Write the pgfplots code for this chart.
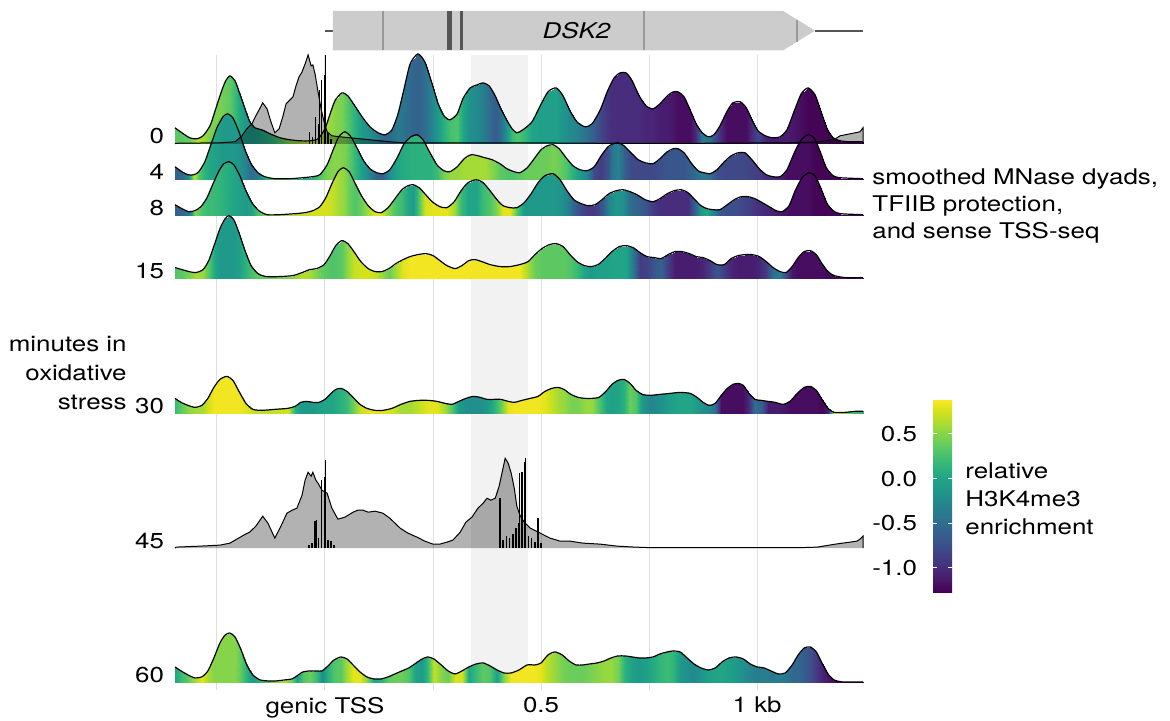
\documentclass[border=0pt]{standalone}
\usepackage{pgfplots}
\pgfplotsset{compat=1.18}
\usepackage{pgfplotstable}
\usepackage{fontspec}
\setmainfont{TeX Gyre Heros}[FakeStretch=1.2]
\definecolor{genegray}{HTML}{CCCCCC}
\definecolor{midgray}{HTML}{999999}
\definecolor{darkgene}{HTML}{555555}

% ---- smoothed MNase dyads (h, arbitrary units) coloured by relative H3K4me3 (c) ----
% 0 min
\pgfplotstableread{
x h c
-0.347 16 0.35
-0.331 11 0.35
-0.313 6 0.40
-0.296 5 0.65
-0.282 8 0.60
-0.266 18 0.45
-0.255 32 0.45
-0.243 48 0.45
-0.231 62 0.40
-0.220 68 0.35
-0.208 63 0.20
-0.197 50 0.00
-0.185 35 -0.10
-0.174 22 -0.10
-0.162 16 -0.10
-0.146 14 0.00
-0.127 10 0.10
-0.104 6 0.30
-0.081 4 0.50
-0.058 3 0.60
-0.035 3 0.70
-0.016 5 0.70
0.000 15 0.60
0.012 30 0.55
0.023 43 0.50
0.039 51 0.45
0.053 48 0.30
0.069 38 0.10
0.086 27 -0.10
0.104 17 -0.20
0.123 11 -0.40
0.139 9 -0.55
0.155 14 -0.50
0.169 30 -0.40
0.183 55 -0.45
0.197 80 -0.55
0.215 90 -0.60
0.231 82 -0.50
0.248 60 -0.30
0.262 40 -0.10
0.275 28 0.10
0.289 24 0.25
0.306 30 0.30
0.319 45 0.00
0.336 56 -0.20
0.352 59 -0.25
0.366 61 -0.35
0.380 58 -0.50
0.394 48 -0.65
0.405 37 -0.55
0.419 25 -0.20
0.433 15 0.20
0.444 11 0.30
0.458 14 0.20
0.479 22 0.00
0.498 38 -0.05
0.516 52 -0.05
0.535 56 -0.05
0.551 48 -0.15
0.567 33 -0.25
0.583 22 -0.30
0.602 17 -0.45
0.618 20 -0.60
0.637 34 -0.80
0.653 52 -0.95
0.669 66 -1.00
0.683 71 -1.00
0.697 71 -1.00
0.711 63 -1.00
0.727 48 -1.00
0.743 38 -1.05
0.759 35 -1.05
0.775 40 -1.10
0.792 48 -1.10
0.806 52 -1.15
0.817 52 -1.20
0.831 47 -1.20
0.845 34 -1.20
0.859 20 -1.00
0.873 11 -0.40
0.887 7 -0.40
0.900 9 -0.70
0.914 18 -1.00
0.931 33 -1.20
0.944 41 -1.20
0.961 42 -1.20
0.975 36 -1.20
0.988 24 -1.00
1.002 13 -0.80
1.019 8 -1.05
1.035 6 -1.10
1.053 7 -1.10
1.069 14 -1.10
1.086 33 -1.15
1.102 50 -1.20
1.118 56 -1.25
1.134 49 -1.25
1.148 32 -1.25
1.162 15 -1.25
1.176 6 -1.25
1.192 3 -1.25
1.215 2 -1.25
1.245 2 -1.25
}\rA
% 4 min
\pgfplotstableread{
x h c
-0.347 13 -0.60
-0.331 8 -0.55
-0.317 5 -0.30
-0.303 5 0.70
-0.292 8 0.30
-0.278 18 0.10
-0.264 35 0.00
-0.250 52 -0.05
-0.236 63 -0.10
-0.225 66 -0.10
-0.213 62 -0.10
-0.199 48 -0.15
-0.185 30 -0.30
-0.171 16 -0.50
-0.155 7 -0.40
-0.139 3 0.10
-0.116 1 0.30
-0.081 1 0.30
-0.051 2 0.00
-0.030 3 0.10
-0.012 5 0.30
0.005 15 0.45
0.019 30 0.50
0.032 43 0.50
0.046 48 0.45
0.060 43 0.30
0.074 32 0.10
0.088 20 -0.10
0.104 11 -0.30
0.120 7 -0.60
0.134 6 -0.60
0.150 10 -0.20
0.167 22 0.00
0.183 36 0.05
0.199 43 0.10
0.213 45 0.10
0.227 40 0.10
0.243 27 0.10
0.259 15 0.20
0.275 9 0.45
0.289 8 0.55
0.306 13 0.55
0.322 21 0.60
0.338 25 0.60
0.354 24 0.60
0.370 22 0.60
0.387 20 0.50
0.405 16 0.35
0.421 11 0.30
0.438 8 0.30
0.451 7 0.35
0.468 12 0.40
0.484 21 0.40
0.500 30 0.40
0.514 34 0.40
0.528 35 0.45
0.542 31 0.40
0.558 22 0.30
0.574 14 0.10
0.590 10 -0.10
0.606 9 -0.30
0.623 13 -0.80
0.639 24 -0.90
0.655 33 -0.70
0.667 36 -0.40
0.678 37 -0.30
0.692 34 -0.60
0.708 27 -0.80
0.725 20 -0.80
0.741 17 -0.80
0.759 16 -0.80
0.775 21 -0.75
0.792 28 -0.70
0.806 31 -0.70
0.817 31 -0.70
0.831 27 -0.70
0.847 17 -0.60
0.863 9 -0.45
0.877 7 -0.40
0.891 6 -0.50
0.907 10 -0.75
0.924 18 -0.80
0.940 24 -0.80
0.956 27 -0.80
0.972 27 -0.80
0.988 20 -0.85
1.005 11 -0.90
1.021 5 -1.00
1.037 3 -1.05
1.053 3 -1.10
1.069 10 -1.20
1.086 27 -1.20
1.102 40 -1.20
1.118 45 -1.20
1.132 42 -1.25
1.146 28 -1.25
1.160 12 -1.25
1.176 4 -1.25
1.192 2 -1.25
1.245 1 -1.25
}\rB
% 8 min
\pgfplotstableread{
x h c
-0.347 11 -0.60
-0.331 7 -0.55
-0.315 4 -0.40
-0.301 5 0.50
-0.287 9 0.30
-0.273 18 0.20
-0.259 32 0.20
-0.245 45 0.15
-0.234 52 0.10
-0.222 54 0.05
-0.211 51 0.00
-0.197 40 -0.05
-0.183 25 -0.10
-0.169 13 0.00
-0.153 5 0.30
-0.134 1 0.55
-0.104 1 0.60
-0.069 2 0.65
-0.046 3 0.70
-0.028 5 0.75
-0.012 9 0.75
0.002 18 0.75
0.016 32 0.70
0.030 44 0.60
0.042 48 0.55
0.056 44 0.40
0.069 33 0.30
0.083 21 0.40
0.100 10 0.60
0.116 4 0.80
0.130 3 0.80
0.146 8 0.50
0.162 17 0.30
0.178 26 0.20
0.192 30 0.00
0.204 31 -0.10
0.218 28 0.30
0.231 22 0.75
0.248 14 0.80
0.266 9 0.80
0.282 8 0.80
0.299 14 0.60
0.315 25 0.20
0.331 33 0.00
0.350 36 0.00
0.366 33 0.20
0.382 25 0.30
0.398 16 0.50
0.412 10 0.80
0.428 8 0.80
0.444 8 0.30
0.461 13 -0.10
0.477 22 -0.10
0.493 33 -0.10
0.509 40 -0.10
0.528 42 -0.10
0.544 36 -0.15
0.560 25 -0.30
0.576 16 -0.60
0.593 12 -0.80
0.609 10 -0.90
0.625 11 -0.90
0.641 16 -0.70
0.657 22 -0.30
0.674 25 -0.10
0.690 26 -0.20
0.706 24 -0.50
0.722 21 -0.60
0.741 16 -0.70
0.759 14 -0.90
0.775 17 -1.00
0.792 22 -1.00
0.808 25 -1.00
0.824 26 -1.00
0.840 23 -1.00
0.856 16 -0.60
0.870 10 -0.10
0.884 7 0.00
0.898 6 -0.30
0.914 6 -0.70
0.931 11 -0.75
0.947 16 -0.75
0.963 19 -0.80
0.979 19 -0.85
0.995 17 -0.95
1.012 13 -1.00
1.028 9 -1.05
1.044 5 -1.10
1.058 4 -1.15
1.074 10 -1.20
1.088 25 -1.20
1.104 38 -1.20
1.120 43 -1.20
1.134 40 -1.25
1.148 27 -1.25
1.162 12 -1.25
1.176 5 -1.25
1.192 2 -1.25
1.245 1 -1.25
}\rC
% 15 min
\pgfplotstableread{
x h c
-0.347 11 0.30
-0.331 9 0.35
-0.315 7 0.45
-0.299 6 0.60
-0.282 9 0.55
-0.269 18 0.30
-0.255 35 0.00
-0.243 50 -0.10
-0.231 60 -0.10
-0.222 63 -0.10
-0.211 59 -0.10
-0.199 46 -0.05
-0.185 28 0.10
-0.171 13 0.25
-0.155 5 0.35
-0.137 2 0.40
-0.104 2 0.45
-0.074 3 0.50
-0.053 6 0.65
-0.035 9 0.60
-0.019 10 0.45
-0.002 14 0.35
0.012 23 0.30
0.025 33 0.30
0.039 38 0.35
0.053 35 0.55
0.067 27 0.70
0.083 17 0.75
0.100 10 0.75
0.116 7 0.70
0.132 7 0.55
0.148 10 0.40
0.164 15 0.60
0.181 19 0.80
0.197 22 0.85
0.215 24 0.85
0.234 25 0.85
0.250 23 0.85
0.266 18 0.85
0.282 13 0.85
0.301 10 0.85
0.317 13 0.85
0.333 18 0.85
0.347 19 0.85
0.363 17 0.85
0.382 14 0.85
0.405 12 0.85
0.428 12 0.85
0.451 14 0.85
0.470 17 0.60
0.486 24 0.40
0.502 30 0.35
0.519 34 0.35
0.535 35 0.35
0.551 32 0.35
0.567 24 0.30
0.583 17 0.20
0.600 13 0.00
0.616 12 -0.10
0.632 14 -0.05
0.648 20 -0.05
0.664 27 0.00
0.681 32 0.00
0.697 33 0.00
0.713 31 -0.40
0.729 26 -0.90
0.745 22 -0.85
0.762 21 -0.70
0.778 20 -0.60
0.794 24 -0.90
0.810 27 -1.10
0.826 27 -1.10
0.843 25 -1.10
0.859 22 -1.10
0.875 21 -1.05
0.891 18 -0.90
0.907 14 -0.70
0.924 14 -0.90
0.940 20 -1.05
0.956 23 -1.10
0.972 24 -1.10
0.988 24 -1.10
1.005 22 -1.05
1.021 17 -0.90
1.037 11 -0.50
1.053 7 -0.35
1.067 6 -0.80
1.081 12 -1.15
1.095 21 -1.20
1.109 27 -1.20
1.123 28 -1.20
1.137 24 -1.20
1.150 15 -1.20
1.164 7 -1.25
1.178 3 -1.25
1.204 1 -1.25
1.245 1 -1.25
}\rD
% 30 min
\pgfplotstableread{
x h c
-0.347 15 0.20
-0.333 11 0.35
-0.317 8 0.50
-0.301 6 0.60
-0.285 8 0.60
-0.271 15 0.75
-0.257 26 0.85
-0.243 34 0.85
-0.227 37 0.85
-0.213 33 0.85
-0.199 22 0.85
-0.183 10 0.80
-0.167 4 0.70
-0.146 3 0.70
-0.116 4 0.70
-0.086 5 0.75
-0.069 7 0.10
-0.056 11 -0.10
-0.042 12 -0.10
-0.028 11 -0.10
-0.014 11 -0.05
0.000 14 0.00
0.014 20 0.00
0.025 24 0.05
0.037 25 0.10
0.051 22 0.20
0.065 16 0.40
0.081 9 0.70
0.097 5 0.80
0.116 3 0.80
0.134 3 0.80
0.155 5 0.75
0.176 9 0.60
0.197 12 0.60
0.218 13 0.70
0.238 13 0.80
0.259 12 0.80
0.278 10 0.60
0.294 9 0.30
0.310 12 -0.10
0.326 15 -0.20
0.343 17 -0.20
0.359 16 -0.20
0.375 14 -0.10
0.391 14 0.10
0.407 14 0.40
0.424 12 0.80
0.438 11 0.85
0.456 13 0.85
0.475 15 0.85
0.493 17 0.85
0.509 22 0.80
0.525 25 0.70
0.539 26 0.60
0.553 24 0.55
0.569 19 0.45
0.586 16 0.45
0.602 15 0.55
0.618 15 0.55
0.634 16 0.30
0.650 22 0.00
0.664 29 -0.05
0.678 33 0.00
0.692 34 0.10
0.706 30 0.40
0.720 23 0.30
0.734 19 -0.10
0.752 18 -0.30
0.775 19 -0.20
0.799 20 -0.05
0.822 21 0.00
0.845 20 0.00
0.861 16 -0.10
0.875 11 -0.20
0.889 8 -0.30
0.903 10 -0.50
0.917 18 -1.20
0.931 25 -1.20
0.944 29 -1.20
0.956 30 -1.20
0.968 28 -1.20
0.981 20 -1.00
0.995 14 -0.50
1.009 13 -0.60
1.025 12 -1.10
1.042 11 -1.10
1.060 9 -1.15
1.076 12 -1.20
1.093 20 -1.20
1.109 26 -1.20
1.123 27 -1.20
1.137 23 -1.20
1.150 14 -1.25
1.164 5 -1.10
1.178 1 0.80
1.204 1 0.50
1.227 2 0.20
1.245 2 0.10
}\rE
% 60 min
\pgfplotstableread{
x h c
-0.347 16 0.00
-0.333 12 0.20
-0.317 8 0.35
-0.301 5 0.60
-0.285 6 0.80
-0.271 12 0.60
-0.257 25 0.50
-0.243 40 0.50
-0.231 48 0.50
-0.220 50 0.50
-0.208 46 0.50
-0.194 33 0.35
-0.181 18 0.10
-0.167 8 -0.10
-0.150 3 0.10
-0.132 2 0.30
-0.113 2 0.55
-0.093 3 0.60
-0.076 4 0.40
-0.065 7 -0.05
-0.051 11 0.30
-0.035 12 0.40
-0.019 12 0.20
-0.007 12 -0.20
0.007 17 0.10
0.021 23 0.30
0.037 26 0.35
0.051 24 0.60
0.065 18 0.80
0.081 11 0.80
0.097 6 0.50
0.113 4 0.00
0.130 4 0.10
0.146 6 0.35
0.162 9 0.40
0.178 12 0.40
0.194 15 0.30
0.211 20 -0.05
0.225 24 -0.10
0.238 26 0.20
0.252 24 0.70
0.269 18 0.50
0.285 12 0.40
0.301 9 0.75
0.317 12 0.75
0.333 16 0.00
0.350 19 0.20
0.366 20 0.35
0.382 17 0.30
0.398 13 -0.05
0.414 10 0.50
0.431 10 0.85
0.449 13 0.85
0.468 18 0.85
0.486 18 0.85
0.500 20 0.80
0.516 28 0.65
0.532 31 0.55
0.549 28 0.45
0.565 22 0.40
0.581 18 0.40
0.597 18 0.40
0.613 19 0.45
0.630 20 0.50
0.646 22 0.55
0.662 25 0.55
0.678 27 0.45
0.694 27 0.10
0.711 26 -0.05
0.727 25 -0.10
0.743 25 -0.05
0.759 26 0.05
0.775 29 0.15
0.792 31 0.20
0.806 32 0.15
0.822 31 -0.10
0.838 25 -0.20
0.854 19 -0.25
0.870 15 -0.15
0.887 13 -0.05
0.903 15 0.00
0.919 21 0.00
0.935 25 -0.05
0.951 26 -0.10
0.968 24 -0.20
0.984 19 -0.30
1.000 16 -0.35
1.016 15 -0.35
1.032 12 -0.40
1.049 9 -0.35
1.065 10 -0.40
1.081 18 -0.55
1.095 28 -0.55
1.109 35 -0.65
1.123 36 -0.75
1.137 31 -0.90
1.150 20 -1.05
1.164 9 -1.15
1.178 3 -1.20
1.197 1 -1.25
1.245 1 -1.25
}\rF

% ---- sense TSS-seq (grey areas) ----
\pgfplotstableread{
x h
-0.347 0
-0.345 0.5
-0.243 1
-0.208 2
-0.192 8
-0.181 15
-0.169 20
-0.160 28
-0.150 36
-0.144 41
-0.134 35
-0.125 22
-0.116 11
-0.106 15
-0.097 28
-0.090 40
-0.081 44
-0.074 47
-0.067 58
-0.060 67
-0.053 72
-0.046 80
-0.039 89
-0.032 78
-0.028 79
-0.023 70
-0.016 52
-0.009 35
-0.002 22
0.005 12
0.016 8
0.035 7
0.058 6
0.081 5
0.104 4
0.127 3
0.150 2
0.181 1
0.289 1
0.451 1
0.637 0.5
0.868 0.5
1.076 1
1.146 2
1.181 5
1.192 8
1.204 9
1.215 10
1.227 11
1.238 12
1.245 16
1.245 0
}\gA
\pgfplotstableread{
x h
-0.347 0
-0.345 1
-0.289 2
-0.243 3
-0.220 5
-0.204 9
-0.188 13
-0.174 16
-0.160 22
-0.144 32
-0.132 25
-0.116 10
-0.102 22
-0.088 35
-0.076 38
-0.065 40
-0.053 53
-0.046 68
-0.039 76
-0.032 72
-0.028 76
-0.021 68
-0.016 65
-0.007 58
0.005 55
0.016 40
0.030 29
0.046 31
0.065 36
0.076 38
0.088 38
0.100 36
0.116 37
0.134 35
0.150 30
0.162 25
0.174 20
0.192 15
0.213 11
0.231 7
0.250 4
0.266 4
0.282 6
0.296 8
0.313 16
0.326 26
0.340 31
0.354 40
0.366 45
0.375 50
0.384 48
0.394 50
0.403 62
0.412 80
0.417 90
0.424 85
0.431 75
0.438 60
0.444 42
0.451 33
0.461 26
0.475 20
0.498 15
0.521 10
0.544 7
0.567 7
0.597 5
0.637 4
0.676 2
0.718 1
0.752 0.5
0.868 0.5
1.100 0.5
1.139 1
1.181 4
1.215 6
1.231 7
1.238 9
1.245 12
1.245 0
}\gB

% ---- TFIIB protection (black spikes) ----
\pgfplotstableread{
x h
-0.035 12
-0.028 7
-0.021 27
-0.016 20
-0.012 54
-0.007 64
-0.002 69
0.002 89
0.007 11
0.014 5
}\sA
\pgfplotstableread{
x h
-0.037 3
-0.030 5
-0.023 27
-0.019 28
-0.014 10
-0.009 55
-0.007 68
-0.002 71
0.002 88
0.007 8
0.014 7
0.021 3
0.405 50
0.412 8
0.421 12
0.428 10
0.435 14
0.442 20
0.447 25
0.451 75
0.456 76
0.461 86
0.465 90
0.470 12
0.477 10
0.486 6
0.493 30
0.500 5
}\sB

\newcommand\ridgetable[3]{\pgfplotstablevertcat{#2}{#1}\pgfplotstablevertcat{#2}{#1}%
  \pgfplotstablegetrowsof{#1}\edef#3{\pgfplotsretval}}
\ridgetable{\rA}{\rAd}{\nA}
\ridgetable{\rB}{\rBd}{\nB}
\ridgetable{\rC}{\rCd}{\nC}
\ridgetable{\rD}{\rDd}{\nD}
\ridgetable{\rE}{\rEd}{\nE}
\ridgetable{\rF}{\rFd}{\nF}

\newcommand\drawridge[4]{%
  \addplot[surf, shader=interp, mesh/rows=2, point meta=\thisrow{c}]
    table[x=x, y expr={(\coordindex<#3) ? #4 : #4-\thisrow{h}/9}]{#2};
  \addplot[black, line width=0.6pt, smooth, tension=0.4]
    table[x=x, y expr={#4-\thisrow{h}/9}]{#1};
}

\begin{document}
\begin{tikzpicture}[font=\fontsize{10.8}{13.5}\selectfont]
\useasboundingbox (0,0) rectangle (585pt,-360.5pt);
\begin{axis}[
  at={(87.5pt,-27.5pt)}, anchor=north west,
  scale only axis, width=344pt, height=317.5pt,
  xmin=-0.347, xmax=1.245, ymin=-9.88, ymax=60.79, y dir=reverse,
  enlargelimits=false, clip=false,
  axis line style={draw=none},
  major tick length=0pt,
  xtick={-0.25,0,0.25,0.5,0.75,1},
  xticklabels={,genic TSS,,0.5,,1 kb},
  ytick={0,4,8,15,30,45,60},
  yticklabels={0,4,8,15,30,45,60},
  yticklabel style={anchor=base east, xshift=-2pt},
  xmajorgrids, grid style={gray!25, line width=0.5pt},
  colormap/viridis,
  point meta min=-1.27, point meta max=0.89,
  colorbar,
  colorbar style={
    at={(parent axis.north east)}, anchor=north west,
    xshift=26.5pt, yshift=-172pt,
    scale only axis, width=9.5pt, height=96.5pt,
    ytick={-1,-0.5,0,0.5}, yticklabels={-1.0,-0.5,0.0,0.5},
    ytick pos=both, yticklabel pos=left,
    tick align=inside, major tick length=2pt,
    tick style={white, line width=0.5pt},
    axis line style={draw=none},
    yticklabel style={font=\fontsize{10.8}{13.5}\selectfont, xshift=-4.5pt},
  },
]
% highlighted window
\fill[gray!10] (axis cs:0.338,-9.88) rectangle (axis cs:0.470,60);

% ridges
\drawridge{\rA}{\rAd}{\nA}{0}
\drawridge{\rB}{\rBd}{\nB}{4}
\drawridge{\rC}{\rCd}{\nC}{8}
\drawridge{\rD}{\rDd}{\nD}{15}
\drawridge{\rE}{\rEd}{\nE}{30}
\drawridge{\rF}{\rFd}{\nF}{60}

% TSS-seq and TFIIB protection
\addplot[fill=black, fill opacity=0.3, draw=black, line width=0.5pt]
  table[x=x, y expr={0-\thisrow{h}/9}]{\gA};
\addplot[black, line width=0.55pt, quiver={u=0, v={-\thisrow{h}/9}}]
  table[x=x, y expr=0]{\sA};
\addplot[fill=black, fill opacity=0.3, draw=black, line width=0.5pt]
  table[x=x, y expr={45-\thisrow{h}/9}]{\gB};
\addplot[black, line width=0.55pt, quiver={u=0, v={-\thisrow{h}/9}}]
  table[x=x, y expr=45]{\sB};

% gene annotation
\draw[darkgene, line width=1pt] (axis cs:0,-12.59) -- (axis cs:0.0185,-12.59);
\draw[darkgene, line width=1pt] (axis cs:1.134,-12.59) -- (axis cs:1.245,-12.59);
\fill[genegray] (axis cs:0.0185,-14.78) -- (axis cs:1.060,-14.78) -- (axis cs:1.134,-12.59)
  -- (axis cs:1.060,-10.40) -- (axis cs:0.0185,-10.40) -- cycle;
\draw[midgray, line width=1pt] (axis cs:0.134,-14.78) -- (axis cs:0.134,-10.40);
\draw[darkgene, line width=2.5pt] (axis cs:0.288,-14.78) -- (axis cs:0.288,-10.40);
\draw[darkgene, line width=1.5pt] (axis cs:0.317,-14.78) -- (axis cs:0.317,-10.40);
\draw[midgray, line width=1pt] (axis cs:0.738,-14.78) -- (axis cs:0.738,-10.40);
\draw[midgray, line width=1pt] (axis cs:1.093,-13.81) -- (axis cs:1.093,-11.37);
\node[font=\fontsize{10.8}{13.5}\selectfont\itshape] at (axis cs:0.582,-12.59) {DSK2};
\end{axis}

\begin{scope}[x=0.5pt,y=-0.5pt]
\node[anchor=base east, inner sep=0] at (127,351) {minutes in};
\node[anchor=base east, inner sep=0] at (127,380) {oxidative};
\node[anchor=base east, inner sep=0] at (127,409) {stress};
\node[anchor=base west, inner sep=0] at (872,185) {smoothed MNase dyads,};
\node[anchor=base west, inner sep=0] at (872,212) {TFIIB protection,};
\node[anchor=base west, inner sep=0] at (872,239) {and sense TSS-seq};
\node[anchor=base west, inner sep=0] at (965,478) {relative};
\node[anchor=base west, inner sep=0] at (965,506) {H3K4me3};
\node[anchor=base west, inner sep=0] at (965,534) {enrichment};
\end{scope}
\end{tikzpicture}
\end{document}
